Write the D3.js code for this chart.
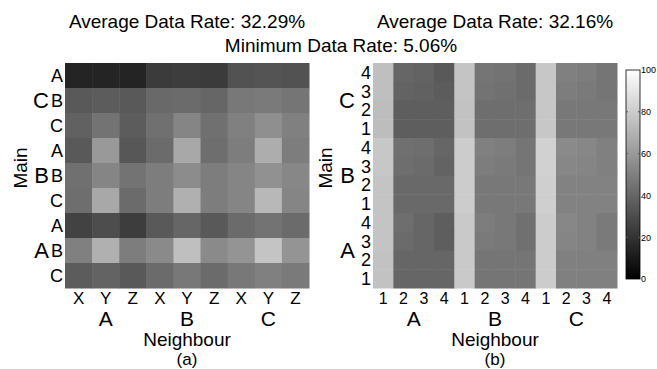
<!DOCTYPE html>
<html>
<head>
<meta charset="utf-8">
<script src="https://cdn.jsdelivr.net/npm/d3@7"></script>
<style>
  body { margin: 0; background: #fff; }
  svg text { font-family: "Liberation Sans", Arial, sans-serif; fill: #000; }
</style>
</head>
<body>
<svg id="chart" width="657" height="369"></svg>
<script>
// groups, top to bottom on the y axis / left to right on x
const mainGroups = ["C", "B", "A"];
const neighbourGroups = ["A", "B", "C"];
const leftRowLabels = ["A", "B", "C"];
const leftColLabels = ["X", "Y", "Z"];
const rightRowLabels = ["4", "3", "2", "1"];
const rightColLabels = ["1", "2", "3", "4"];
const colorTicks = [0, 20, 40, 60, 80, 100];

// (a) rows: C-A, C-B, C-C, B-A, B-B, B-C, A-A, A-B, A-C
const leftRates = [
  [14, 14, 14, 23, 24, 23, 32, 33, 32],
  [35, 36, 35, 41, 42, 40, 47, 48, 46],
  [38, 45, 36, 44, 52, 44, 50, 56, 50],
  [35, 60, 34, 42, 66, 43, 49, 68, 49],
  [44, 52, 45, 49, 55, 49, 52, 57, 53],
  [43, 66, 42, 49, 69, 49, 52, 72, 52],
  [26, 30, 24, 35, 40, 35, 42, 45, 42],
  [50, 69, 49, 54, 75, 54, 58, 77, 58],
  [36, 39, 35, 42, 47, 42, 47, 50, 48]
];

// (b) rows: C4, C3, C2, C1, B4, B3, B2, B1, A4, A3, A2, A1
const rightRates = [
  [75, 40, 39, 35, 77, 46, 45, 42, 78, 50, 49, 46],
  [75, 39, 38, 36, 77, 45, 44, 42, 78, 49, 48, 46],
  [74, 37, 37, 37, 76, 43, 43, 43, 78, 47, 47, 47],
  [74, 37, 37, 37, 76, 43, 43, 43, 78, 47, 47, 47],
  [78, 44, 43, 40, 80, 50, 49, 46, 82, 54, 53, 50],
  [78, 43, 42, 39, 80, 49, 48, 46, 82, 53, 52, 50],
  [77, 41, 41, 41, 80, 47, 47, 47, 81, 51, 51, 51],
  [77, 41, 41, 41, 80, 47, 47, 47, 81, 51, 51, 51],
  [77, 43, 40, 37, 79, 49, 47, 44, 80, 53, 51, 48],
  [77, 42, 40, 37, 79, 48, 47, 44, 80, 52, 51, 48],
  [76, 40, 40, 40, 79, 46, 46, 46, 80, 50, 50, 50],
  [76, 40, 40, 40, 79, 46, 46, 46, 80, 50, 50, 50]
];

const titleLeft = "Average Data Rate: 32.29%";
const titleRight = "Average Data Rate: 32.16%";
const titleMin = "Minimum Data Rate: 5.06%";

const svg = d3.select("#chart");
const color = d3.scaleLinear().domain([0, 100]).range(["#000", "#fff"]);

const gridTop = 63, gridBottom = 288;

function heatmap(opts) {
  const nRows = opts.data.length, nCols = opts.data[0].length;
  const x = d3.scaleBand().domain(d3.range(nCols)).range([opts.x0, opts.x1]);
  const y = d3.scaleBand().domain(d3.range(nRows)).range([gridTop, gridBottom]);
  const g = svg.append("g");

  opts.data.forEach((row, r) => {
    g.selectAll(null)
      .data(row)
      .enter()
      .append("rect")
      .attr("x", (d, c) => x(c))
      .attr("y", y(r))
      .attr("width", x.bandwidth() + 0.5)
      .attr("height", y.bandwidth() + 0.5)
      .attr("fill", d => color(d));
  });

  // inner tick labels
  const xAxis = g.append("g")
    .attr("transform", "translate(0," + gridBottom + ")")
    .call(d3.axisBottom(x).tickSize(0).tickPadding(0)
      .tickFormat(i => opts.colLabels[i % opts.colLabels.length]));
  xAxis.select(".domain").remove();
  xAxis.selectAll("text")
    .attr("y", 16).attr("dy", 0)
    .style("font-size", opts.tickSize + "px");

  const yAxis = g.append("g")
    .attr("transform", "translate(" + opts.x0 + ",0)")
    .call(d3.axisLeft(y).tickSize(0).tickPadding(2)
      .tickFormat(i => opts.rowLabels[i % opts.rowLabels.length]));
  yAxis.select(".domain").remove();
  yAxis.selectAll("text")
    .attr("dy", "0.36em")
    .style("font-size", opts.rowSize + "px");

  // group labels
  const gc = opts.colLabels.length, gr = opts.rowLabels.length;
  g.selectAll(".xgroup")
    .data(neighbourGroups)
    .enter()
    .append("text")
    .attr("x", (d, i) => (x(i * gc) + x(i * gc + gc - 1) + x.bandwidth()) / 2)
    .attr("y", 326)
    .attr("text-anchor", "middle")
    .style("font-size", "21px")
    .text(d => d);

  g.selectAll(".ygroup")
    .data(mainGroups)
    .enter()
    .append("text")
    .attr("x", opts.groupX)
    .attr("y", (d, i) => (y(i * gr) + y(i * gr + gr - 1) + y.bandwidth()) / 2)
    .attr("dy", "0.36em")
    .attr("text-anchor", "end")
    .style("font-size", "22px")
    .text(d => d);

  const cx = (opts.x0 + opts.x1) / 2;
  g.append("text")
    .attr("x", cx).attr("y", 346)
    .attr("text-anchor", "middle")
    .style("font-size", "19px")
    .text("Neighbour");
  g.append("text")
    .attr("x", cx).attr("y", 365)
    .attr("text-anchor", "middle")
    .style("font-size", "17px")
    .text(opts.caption);

  g.append("text")
    .attr("transform", "translate(" + opts.mainX + ",168) rotate(-90)")
    .attr("text-anchor", "middle")
    .style("font-size", "19px")
    .text("Main");

  g.append("text")
    .attr("x", cx).attr("y", 28)
    .attr("text-anchor", "middle")
    .style("font-size", "19px")
    .text(opts.title);
}

heatmap({
  data: leftRates, x0: 65, x1: 309,
  colLabels: leftColLabels, rowLabels: leftRowLabels,
  tickSize: 17, rowSize: 18, groupX: 49, mainX: 27,
  caption: "(a)", title: titleLeft
});

heatmap({
  data: rightRates, x0: 373, x1: 617,
  colLabels: rightColLabels, rowLabels: rightRowLabels,
  tickSize: 16, rowSize: 18, groupX: 355, mainX: 332,
  caption: "(b)", title: titleRight
});

svg.append("text")
  .attr("x", 341).attr("y", 52)
  .attr("text-anchor", "middle")
  .style("font-size", "19px")
  .text(titleMin);

// colorbar
const cb = { x: 626, w: 14, top: 70, bottom: 279 };
const cy = d3.scaleLinear().domain([0, 100]).range([cb.bottom, cb.top]);
const defs = svg.append("defs");
const grad = defs.append("linearGradient")
  .attr("id", "cbar").attr("x1", 0).attr("y1", 1).attr("x2", 0).attr("y2", 0);
grad.append("stop").attr("offset", 0).attr("stop-color", color(0));
grad.append("stop").attr("offset", 1).attr("stop-color", color(100));

svg.append("rect")
  .attr("x", cb.x).attr("y", cb.top)
  .attr("width", cb.w).attr("height", cb.bottom - cb.top)
  .attr("fill", "url(#cbar)")
  .attr("stroke", "#000").attr("stroke-width", 0.8);

const cAxis = svg.append("g")
  .attr("transform", "translate(" + (cb.x + cb.w) + ",0)")
  .call(d3.axisRight(cy).tickValues(colorTicks).tickSize(0).tickPadding(1));
cAxis.select(".domain").remove();
cAxis.selectAll("text").style("font-size", "9px");

// small inward ticks on both edges
svg.selectAll(".cbtick")
  .data(colorTicks.filter(t => t > 0 && t < 100))
  .enter()
  .append("g")
  .each(function (t) {
    const g = d3.select(this);
    g.append("line").attr("x1", cb.x).attr("x2", cb.x + 2)
      .attr("y1", cy(t)).attr("y2", cy(t)).attr("stroke", "#555");
    g.append("line").attr("x1", cb.x + cb.w - 2).attr("x2", cb.x + cb.w)
      .attr("y1", cy(t)).attr("y2", cy(t)).attr("stroke", "#555");
  });
</script>
</body>
</html>
